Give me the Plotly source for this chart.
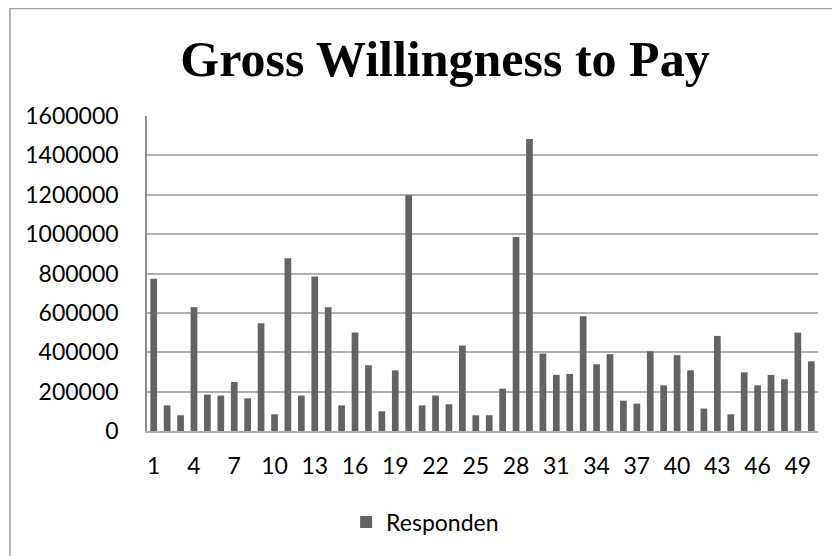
import plotly.graph_objects as go

respondents = list(range(1, 51))
wtp_values = [
    773000, 130000, 80000, 629000, 185000, 180000, 249000, 166000, 547000, 85000,
    878000, 180000, 785000, 629000, 130000, 500000, 334000, 100000, 308000, 1198000,
    130000, 180000, 136000, 434000, 80000, 80000, 215000, 985000, 1483000, 393000,
    285000, 290000, 583000, 339000, 390000, 154000, 139000, 405000, 232000, 385000,
    308000, 114000, 483000, 85000, 298000, 232000, 285000, 263000, 500000, 354000,
]
x_tick_labels = list(range(1, 51, 3))
y_tick_values = list(range(0, 1600001, 200000))
series_name = "Responden"
title_text = "Gross Willingness to Pay"

BAR = "#636363"
GRID = "#b0b0b0"
AXIS = "#8f8f8f"
FONT = "Lato, Calibri, Carlito, 'Open Sans', sans-serif"

fig = go.Figure()
fig.add_trace(go.Bar(
    x=respondents, y=wtp_values, name=series_name,
    marker=dict(color=BAR, line=dict(width=0)),
    showlegend=True,
))

# page body has an 8px margin, so the figure is 832x548
W, H = 832, 548
L, T = 139, 108
pw, ph = 670.6, 315
R = W - L - pw
B = H - T - ph
plot_bottom = T + ph

fig.update_layout(
    width=W, height=H,
    margin=dict(l=L, r=R, t=T, b=B, pad=0),
    paper_bgcolor="white", plot_bgcolor="white",
    bargap=0.5,
    font=dict(family=FONT, size=23, color="#000000"),
    title=dict(
        text="<b>" + title_text + "</b>",
        font=dict(family="'Liberation Serif', 'Times New Roman', serif", size=50, color="#000000"),
        x=437 / W, xanchor="center",
        y=1 - 50 / H, yanchor="middle",
        xref="container", yref="container",
    ),
    xaxis=dict(
        range=[0.5, 50.5],
        tickmode="array", tickvals=x_tick_labels,
        ticktext=[str(v) for v in x_tick_labels],
        showgrid=False, zeroline=False,
        showline=True, linecolor=GRID, linewidth=1.5,
        ticks="", ticklabelstandoff=14,
        tickfont=dict(family=FONT, size=23),
    ),
    yaxis=dict(
        range=[0, 1600000],
        tickmode="array", tickvals=y_tick_values,
        ticktext=[str(v) for v in y_tick_values],
        showgrid=True, gridcolor=GRID, gridwidth=1.5,
        zeroline=False,
        showline=True, linecolor=AXIS, linewidth=1.5,
        ticks="", ticklabelstandoff=22,
        tickfont=dict(family=FONT, size=23),
    ),
    legend=dict(
        orientation="h",
        x=(338 - L) / pw, xanchor="left",
        y=(plot_bottom - 514) / ph, yanchor="middle",
        font=dict(family=FONT, size=23),
        itemwidth=30,
    ),
    shapes=[dict(
        type="rect", xref="paper", yref="paper",
        x0=(2 - L) / pw, x1=1.5,
        y0=-1.0, y1=(plot_bottom - 0.5) / ph,
        line=dict(color="#a0a0a0", width=1.5),
        fillcolor="rgba(0,0,0,0)", layer="below",
    )],
)

fig.write_html("out.html")
